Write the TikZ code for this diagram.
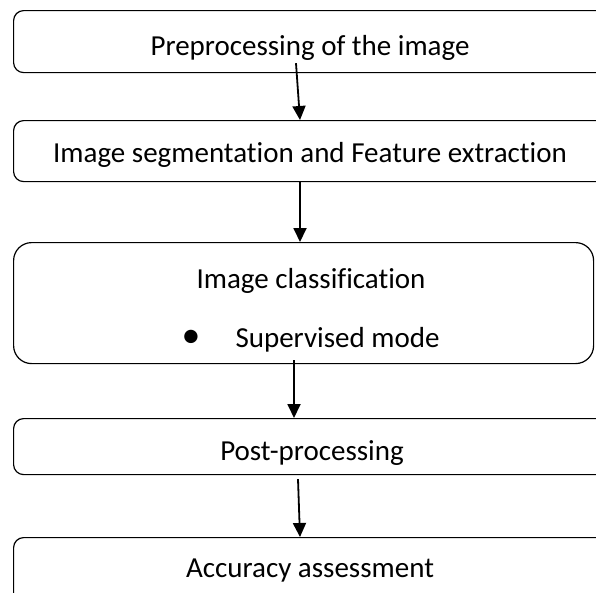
\documentclass[tikz,border=0pt]{standalone}
\usepackage{fontspec}
\setmainfont{Carlito}[Ligatures=NoCommon]
\usetikzlibrary{calc,arrows.meta}

\begin{document}
\begin{tikzpicture}[x=1pt,y=1pt,box/.style={draw,line width=1.2pt,rounded corners=10pt,anchor=north west,minimum width=620pt},
    arj/.style={line width=1.8pt,-{Triangle[length=14pt,width=13pt]}},txt/.style={anchor=base,font=\fontsize{29}{34}\selectfont}]
  \useasboundingbox (0,0) rectangle (596,-592);
  % boxes
  \node(pre)[box,minimum height=62pt] at (13,-10) {};
  \node(seg)[box,minimum height=61pt] at (13,-120) {};
  \node(cls)[box,minimum height=121pt,minimum width=580pt,rounded corners=18pt] at (13,-242) {};
  \node(post)[box,minimum height=56pt] at (13,-418) {};
  \node(acc)[box,minimum height=70pt] at (13,-537) {};
  % texts
  \node(pre text)[txt] at (310,-55) {Preprocessing of the image};
  \node(seg text)[txt] at (310,-162) {Image segmentation and Feature extraction};
  \node(cls text)[txt] at (311,-288) {Image classification};
  \node(bullet)[txt] at (191,-347) {\scalebox{1.3}{•}};
  \node(sup text)[txt,anchor=base west] at (232,-347) {Supervised mode};
  \node(post text)[txt] at (312,-460) {Post-processing};
  \node(acc text)[txt] at (310,-577) {Accuracy assessment};
  % arrows
  \draw[arj] ($(pre.south west)+(283,10)$) -- ($(seg.north west)+(287,0)$);
  \draw[arj] ($(seg.south west)+(287,0)$) -- ($(cls.north west)+(287,0)$);
  \draw[arj] ($(cls.south west)+(281,4)$) -- ($(post.north west)+(281,0)$);
  \draw[arj] ($(post.south west)+(285,-4)$) -- ($(acc.north west)+(287,0)$);
\end{tikzpicture}
\end{document}
